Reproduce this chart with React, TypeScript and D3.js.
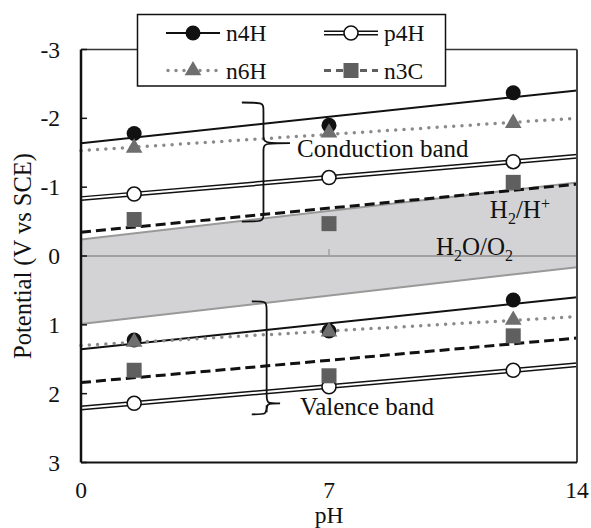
import React from "react";
import * as d3 from "d3";

// pH of the three measurements
const phValues = [1.5, 7, 12.2];

// band edges (V vs SCE)
const n4hCB = [-1.78, -1.9, -2.37];
const n4hVB = [1.22, 1.09, 0.64];
const p4hCB = [-0.9, -1.14, -1.37];
const p4hVB = [2.14, 1.9, 1.66];
const n6hCB = [-1.57, -1.79, -1.93];
const n6hVB = [1.25, 1.1, 0.93];
const n3cCB = [-0.53, -0.47, -1.07];
const n3cVB = [1.66, 1.74, 1.16];

// water redox levels vs SCE at pH 0, Nernst slope
const h2Level = -0.241;
const o2Level = 0.988;
const nernst = -0.059;

const yTicks = [-3, -2, -1, 0, 1, 2, 3];
const xTicks = [0, 7, 14];

const W = 591;
const H = 528;
const left = 81;
const right = 577;
const top = 49.5;
const bottom = 462.5;
const font = "Liberation Serif, Tinos, DejaVu Serif, serif";

const x = d3.scaleLinear().domain([0, 14]).range([left, right]);
const y = d3.scaleLinear().domain([-3, 3]).range([top, bottom]);

// least squares trend line over the whole pH range
const trend = (ys: number[]) => {
  const mx = d3.mean(phValues)!;
  const my = d3.mean(ys)!;
  const b =
    d3.sum(phValues, (p, i) => (p - mx) * (ys[i] - my)) /
    d3.sum(phValues, (p) => (p - mx) ** 2);
  const a = my - b * mx;
  return [0, 14].map((p) => [p, a + b * p] as [number, number]);
};

const line = d3
  .line<[number, number]>()
  .x((d) => x(d[0]))
  .y((d) => y(d[1]));

const waterLine = (v0: number) =>
  [0, 14].map((p) => [p, v0 + nernst * p] as [number, number]);

const band = d3
  .area<number>()
  .x((p) => x(p))
  .y0((p) => y(h2Level + nernst * p))
  .y1((p) => y(o2Level + nernst * p));

const tri = d3.symbol(d3.symbolTriangle, 120)()!;

const Marker = ({ kind, cx, cy }: { kind: string; cx: number; cy: number }) => {
  if (kind === "n4H") return <circle cx={cx} cy={cy} r={7.5} fill="#111" />;
  if (kind === "p4H")
    return <circle cx={cx} cy={cy} r={7} fill="#fff" stroke="#111" strokeWidth={1.6} />;
  if (kind === "n6H")
    return <path d={tri} transform={`translate(${cx},${cy})`} fill="#6e6e6e" />;
  return <rect x={cx - 7.5} y={cy - 7.5} width={15} height={15} fill="#5f5f5f" />;
};

const TrendLine = ({ kind, d }: { kind: string; d: string }) => {
  if (kind === "n4H") return <path d={d} stroke="#111" strokeWidth={2} fill="none" />;
  if (kind === "p4H")
    return (
      <g>
        <path d={d} stroke="#111" strokeWidth={5} fill="none" />
        <path d={d} stroke="#fff" strokeWidth={2} fill="none" />
      </g>
    );
  if (kind === "n6H")
    return (
      <path d={d} stroke="#8a8a8a" strokeWidth={3.5} strokeDasharray="0 8.3"
        strokeLinecap="round" fill="none" />
    );
  return <path d={d} stroke="#111" strokeWidth={3} strokeDasharray="10 5" fill="none" />;
};

const series = [
  { kind: "n4H", cb: n4hCB, vb: n4hVB },
  { kind: "p4H", cb: p4hCB, vb: p4hVB },
  { kind: "n6H", cb: n6hCB, vb: n6hVB },
  { kind: "n3C", cb: n3cCB, vb: n3cVB },
];

// right curly brace in data units: hook x, spine x, tip x, top, tip, bottom
const brace = (x0: number, x1: number, x2: number, t: number, m: number, b: number) => {
  const X0 = x(x0), X1 = x(x1), X2 = x(x2);
  const T = y(t), M = y(m), B = y(b);
  const r = 9;
  return `M${X0},${T} C${X1},${T} ${X1},${T} ${X1},${T + r} L${X1},${M - r}
    C${X1},${M} ${X1},${M} ${X2},${M} M${X2},${M} C${X1},${M} ${X1},${M} ${X1},${M + r}
    L${X1},${B - r} C${X1},${B} ${X1},${B} ${X0},${B}`;
};

const LegendItem = ({ kind, lx, ly }: { kind: string; lx: number; ly: number }) => {
  const d = `M${lx},${ly} L${lx + 54},${ly}`;
  let stroke = null;
  if (kind === "n3C")
    stroke = <path d={d} stroke="#5f5f5f" strokeWidth={3} strokeDasharray="7 5" />;
  else if (kind === "n6H")
    stroke = (
      <path d={`M${lx + 2},${ly} L${lx + 54},${ly}`} stroke="#8a8a8a" strokeWidth={3.5}
        strokeDasharray="0 8" strokeLinecap="round" />
    );
  else stroke = <TrendLine kind={kind} d={d} />;
  return (
    <g>
      {stroke}
      <Marker kind={kind} cx={lx + 27} cy={ly} />
      <text x={lx + 60} y={ly + 8} fontSize={23.5} fontFamily={font} fill="#111">
        {kind}
      </text>
    </g>
  );
};

export default function App() {
  const phGrid = d3.range(0, 14.01, 0.5);
  return (
    <svg width={W} height={H} style={{ position: "absolute", left: 0, top: 0 }}>
      <rect width={W} height={H} fill="#fff" />

      <path d={band(phGrid)!} fill="#d3d3d5" />
      <line x1={left} x2={right} y1={y(0)} y2={y(0)} stroke="#a0a0a0" strokeWidth={2} />
      <line x1={x(7)} x2={x(7)} y1={y(0) - 7} y2={y(0)} stroke="#a0a0a0" strokeWidth={1.5} />
      <path d={line(waterLine(h2Level))!} stroke="#999" strokeWidth={2} fill="none" />
      <path d={line(waterLine(o2Level))!} stroke="#999" strokeWidth={2} fill="none" />

      {series.map((s) => (
        <g key={s.kind}>
          <TrendLine kind={s.kind} d={line(trend(s.cb))!} />
          <TrendLine kind={s.kind} d={line(trend(s.vb))!} />
        </g>
      ))}
      {series.map((s) => (
        <g key={s.kind + "m"}>
          {phValues.map((p, i) => (
            <Marker key={"c" + i} kind={s.kind} cx={x(p)} cy={y(s.cb[i])} />
          ))}
          {phValues.map((p, i) => (
            <Marker key={"v" + i} kind={s.kind} cx={x(p)} cy={y(s.vb[i])} />
          ))}
        </g>
      ))}

      {/* frame */}
      <line x1={left} x2={right} y1={top} y2={top} stroke="#333" strokeWidth={1.5} />
      <line x1={right} x2={right} y1={top} y2={bottom} stroke="#444" strokeWidth={2} />
      <line x1={left} x2={right} y1={bottom} y2={bottom} stroke="#111" strokeWidth={2} />
      <line x1={left} x2={left} y1={top} y2={bottom} stroke="#111" strokeWidth={2.5} />
      {yTicks.map((t) => (
        <g key={t}>
          <line x1={left} x2={left + 6} y1={y(t)} y2={y(t)} stroke="#111" strokeWidth={1.5} />
          <text x={60} y={y(t) + 8} textAnchor="end" fontSize={23.5} fontFamily={font} fill="#111">
            {t}
          </text>
        </g>
      ))}
      {xTicks.map((t) => (
        <text key={t} x={x(t)} y={498} textAnchor="middle" fontSize={23.5} fontFamily={font} fill="#111">
          {t}
        </text>
      ))}
      <text x={x(7)} y={523} textAnchor="middle" fontSize={23.5} fontFamily={font} fill="#111">
        pH
      </text>
      <text transform={`translate(31,${y(0)}) rotate(-90)`} textAnchor="middle" fontSize={24.5}
        fontFamily={font} fill="#111">
        Potential (V vs SCE)
      </text>

      {/* annotations */}
      <path d={brace(4.54, 5.15, 5.9, -2.23, -1.64, -0.5)} stroke="#111" strokeWidth={1.8} fill="none" />
      <path d={brace(4.82, 5.24, 5.62, 0.66, 2.14, 2.3)} stroke="#111" strokeWidth={1.8} fill="none" />
      <text x={x(6.1)} y={y(-1.44)} fontSize={25} fontFamily={font} fill="#111">
        Conduction band
      </text>
      <text x={x(6.18)} y={y(2.31)} fontSize={25} fontFamily={font} fill="#111">
        Valence band
      </text>
      <text x={x(11.54)} y={y(-0.55)} fontSize={25} fontFamily={font} fill="#111">
        H<tspan fontSize={16} dy={6}>2</tspan>
        <tspan dy={-6}>/H</tspan>
        <tspan fontSize={16} dy={-9}>+</tspan>
      </text>
      <text x={x(10.02)} y={y(-0.01)} fontSize={25} fontFamily={font} fill="#111">
        H<tspan fontSize={16} dy={6}>2</tspan>
        <tspan dy={-6}>O/O</tspan>
        <tspan fontSize={16} dy={6}>2</tspan>
      </text>

      {/* legend */}
      <rect x={137.5} y={14.5} width={308} height={71.5} fill="#fff" stroke="#111" strokeWidth={1.5} />
      <LegendItem kind="n4H" lx={166} ly={33} />
      <LegendItem kind="p4H" lx={324} ly={33} />
      <LegendItem kind="n6H" lx={166} ly={70.5} />
      <LegendItem kind="n3C" lx={324} ly={70.5} />
    </svg>
  );
}
